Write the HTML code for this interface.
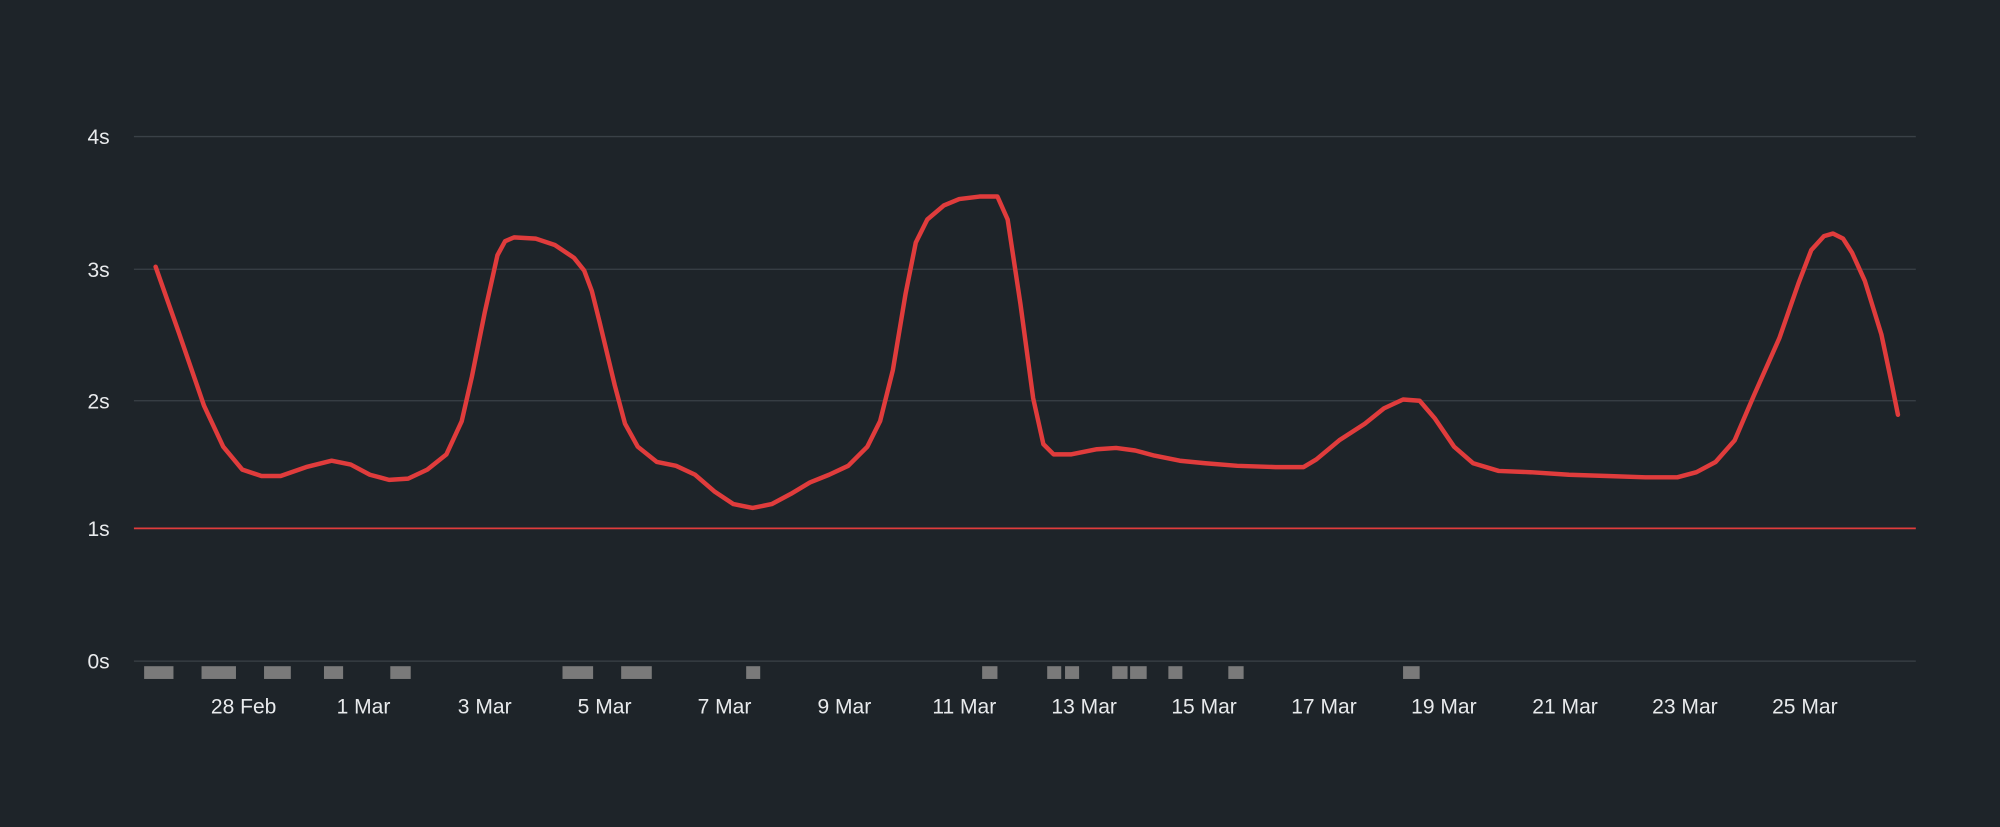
<!DOCTYPE html>
<html><head><style>
html,body{margin:0;padding:0;background:#1e2429;}
svg{display:block;}
text{font-family:"Liberation Sans",sans-serif;fill:#e8eaec;font-size:16.5px;}
</style></head><body>
<svg width="2000" height="827" viewBox="0 0 1568 648" preserveAspectRatio="none">
<rect width="1568" height="648" fill="#1e2429"/>
<g stroke="#3a4147" stroke-width="1">
<line x1="105" y1="107" x2="1502" y2="107"/>
<line x1="105" y1="211" x2="1502" y2="211"/>
<line x1="105" y1="314" x2="1502" y2="314"/>
<line x1="105" y1="518" x2="1502" y2="518"/>
</g>
<line x1="105" y1="414" x2="1502" y2="414" stroke="#e03c3c" stroke-width="1.3"/>
<g text-anchor="end">
<text x="86" y="113">4s</text>
<text x="86" y="217">3s</text>
<text x="86" y="320">2s</text>
<text x="86" y="420">1s</text>
<text x="86" y="524">0s</text>
</g>
<g text-anchor="middle">
<text x="191" y="559">28 Feb</text>
<text x="285" y="559">1 Mar</text>
<text x="380" y="559">3 Mar</text>
<text x="474" y="559">5 Mar</text>
<text x="568" y="559">7 Mar</text>
<text x="662" y="559">9 Mar</text>
<text x="756" y="559">11 Mar</text>
<text x="850" y="559">13 Mar</text>
<text x="944" y="559">15 Mar</text>
<text x="1038" y="559">17 Mar</text>
<text x="1132" y="559">19 Mar</text>
<text x="1227" y="559">21 Mar</text>
<text x="1321" y="559">23 Mar</text>
<text x="1415" y="559">25 Mar</text>
</g>
<g fill="#7a7a7a">
<rect x="113" y="522" width="23" height="10"/>
<rect x="158" y="522" width="27" height="10"/>
<rect x="207" y="522" width="21" height="10"/>
<rect x="254" y="522" width="15" height="10"/>
<rect x="306" y="522" width="16" height="10"/>
<rect x="441" y="522" width="24" height="10"/>
<rect x="487" y="522" width="24" height="10"/>
<rect x="585" y="522" width="11" height="10"/>
<rect x="770" y="522" width="12" height="10"/>
<rect x="821" y="522" width="11" height="10"/>
<rect x="835" y="522" width="11" height="10"/>
<rect x="872" y="522" width="12" height="10"/>
<rect x="886" y="522" width="13" height="10"/>
<rect x="916" y="522" width="11" height="10"/>
<rect x="963" y="522" width="12" height="10"/>
<rect x="1100" y="522" width="13" height="10"/>
</g>
<polyline fill="none" stroke="#e03c3c" stroke-width="3.5" stroke-linejoin="round" stroke-linecap="round"
points="122,209 140,260 160,318 175,350 190,368 205,373 220,373 240,366 260,361 275,364 290,372 305,376 320,375 335,368 350,356 362,330 370,295 380,245 390,200 396,189 403,186 420,187 435,192 450,202 458,212 464,228 470,252 482,302 490,332 500,350 515,362 530,365 545,372 560,385 575,395 590,398 605,395 620,387 635,378 650,372 665,365 680,350 690,330 700,290 710,230 718,190 727,172 740,161 752,156 768,154 782,154 790,172 800,238 810,312 818,348 826,356 840,356 860,352 875,351 890,353 905,357 925,361 945,363 970,365 1000,366 1022,366 1032,360 1050,345 1070,332 1085,320 1100,313 1113,314 1125,328 1140,350 1155,363 1175,369 1200,370 1230,372 1260,373 1290,374 1315,374 1330,370 1345,362 1360,345 1375,310 1395,265 1410,222 1420,196 1430,185 1437,183 1445,187 1452,198 1462,220 1475,262 1483,300 1488,325"/>
</svg>
</body></html>
